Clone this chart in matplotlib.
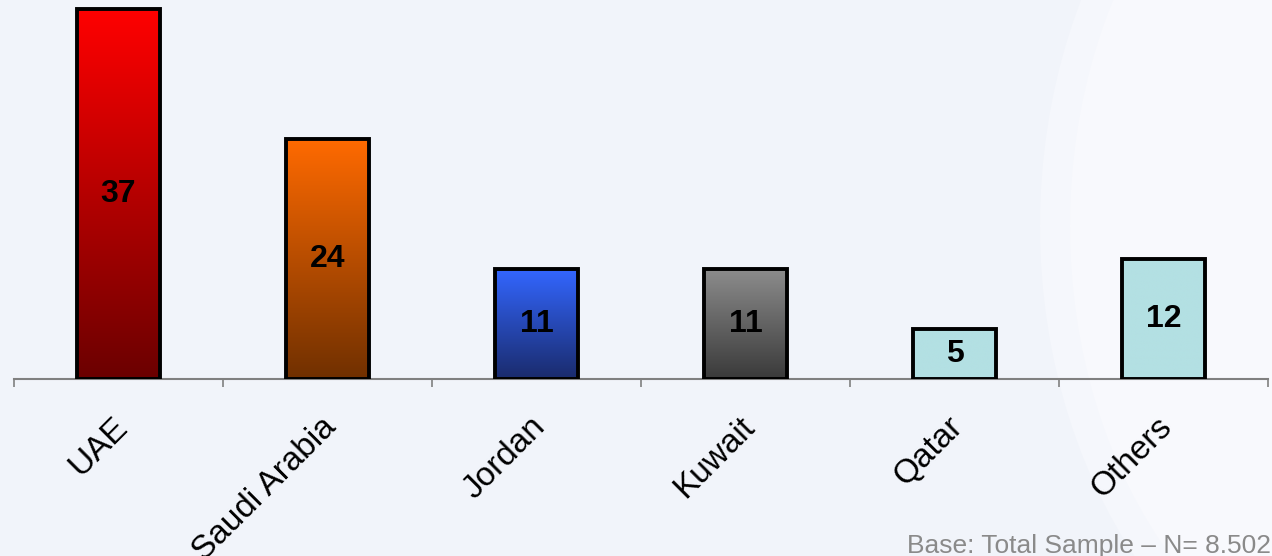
import numpy as np
import matplotlib
matplotlib.use("Agg")
import matplotlib.pyplot as plt
from matplotlib.patches import Ellipse
from matplotlib.colors import to_rgb
import matplotlib.transforms as mtransforms

categories = ["UAE", "Saudi Arabia", "Jordan", "Kuwait", "Qatar", "Others"]
values = [37, 24, 11, 11, 5, 12]
top_colors = ["#ff0000", "#ff6a00", "#3366ff", "#8c8c8c", "#b3e0e3", "#b3e0e3"]
bottom_colors = ["#6b0000", "#703000", "#1a2b6c", "#3a3a3a", "#b3e0e3", "#b3e0e3"]
footer = "Base: Total Sample \u2013 N= 8.502"

plt.rcParams['font.family'] = ['Liberation Sans', 'DejaVu Sans']

W, H = 1272, 556
fig = plt.figure(figsize=(W / 100, H / 100), dpi=100)
fig.patch.set_facecolor("#f1f4fa")

# soft background swoosh
fig.patches.append(Ellipse((1420 / W, 330 / H), 760 / W, 1000 / H,
                           transform=fig.transFigure, facecolor="#f5f7fc",
                           edgecolor="none", zorder=0))
fig.patches.append(Ellipse((1420 / W, 330 / H), 700 / W, 940 / H,
                           transform=fig.transFigure, facecolor="#f8f9fd",
                           edgecolor="none", zorder=0))

ax = fig.add_axes([14 / W, 177 / H, (1268 - 14) / W, 1 - 177 / H])
ax.set_zorder(2)
ax.set_facecolor("none")

x = np.arange(len(categories))
bw = 0.4
bars = ax.bar(x, values, width=bw, facecolor="none", edgecolor="black",
              linewidth=2.8, zorder=3)

for i, (b, v) in enumerate(zip(bars, values)):
    t = np.array(to_rgb(top_colors[i]))
    bt = np.array(to_rgb(bottom_colors[i]))
    f = np.linspace(0, 1, 256)[:, None]
    grad = (bt[None, :] * (1 - f) + t[None, :] * f)[:, None, :]
    im = ax.imshow(grad, extent=[x[i] - bw / 2, x[i] + bw / 2, 0, v],
                   origin="lower", aspect="auto", zorder=2, interpolation="bilinear")
    im.set_clip_path(b)
    ax.text(x[i], v / 2, str(v), ha="center", va="center", fontsize=23,
            fontweight="bold", color="black", zorder=4)

ax.set_xlim(-0.5, len(categories) - 0.5)
ax.set_ylim(0, 37.9)

for s in ["left", "right", "top"]:
    ax.spines[s].set_visible(False)
ax.spines["bottom"].set_color("#808080")
ax.spines["bottom"].set_linewidth(1.5)
ax.set_yticks([])

ax.set_xticks(x)
ax.set_xticklabels(categories, rotation=45, ha="right", va="center",
                   rotation_mode="anchor", fontsize=24, color="black")
ax.tick_params(axis="x", which="major", length=0, pad=31)
ax.set_xticks(np.arange(-0.5, len(categories), 1.0), minor=True)
ax.tick_params(axis="x", which="minor", length=6, width=1.2, color="#808080",
               direction="out")
offset = mtransforms.ScaledTranslation(4 / 100, 0, fig.dpi_scale_trans)
for lab in ax.get_xticklabels():
    lab.set_transform(lab.get_transform() + offset)

fig.text(1271 / W, 3 / H, footer, ha="right", va="baseline", fontsize=19,
         color="#8a8a8a")

fig.savefig("out.png", dpi=100, facecolor=fig.get_facecolor())
